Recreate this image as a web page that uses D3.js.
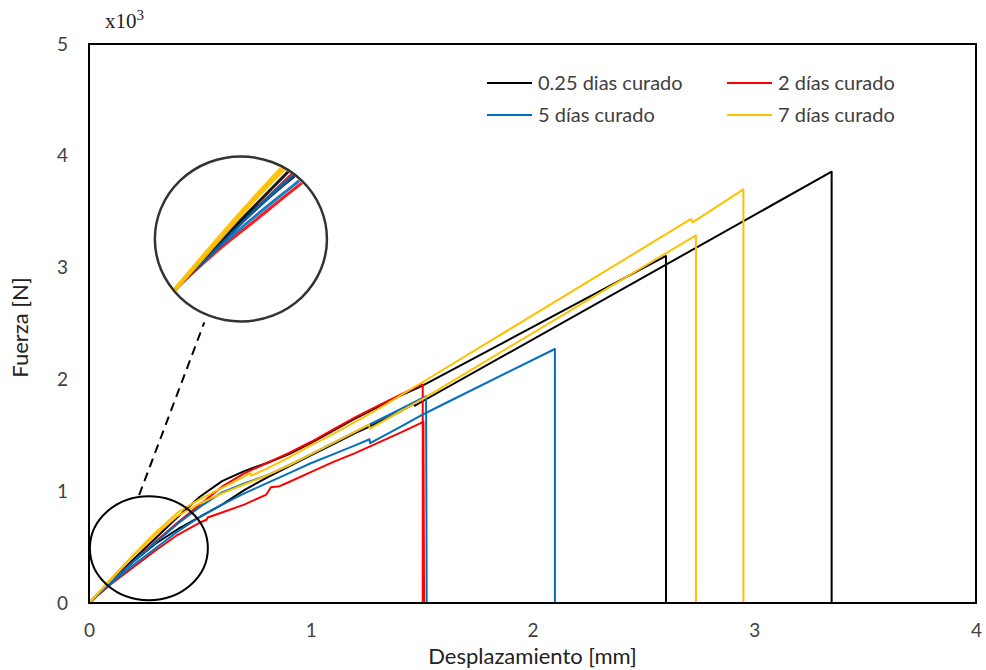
<!DOCTYPE html>
<html><head><meta charset="utf-8">
<script src="https://cdn.jsdelivr.net/npm/d3@7"></script>
<style>
html,body{margin:0;padding:0;background:#fff;}
svg{display:block;font-family:Lato,"Open Sans",sans-serif;}
</style></head>
<body><svg id="c" width="986" height="670"></svg>
<script>
// ---- data (x: mm, y: kN) ----
const seriesNames = ["0.25 dias curado", "2 días curado", "5 días curado", "7 días curado"];
const seriesColors = ["#000000", "#FF0000", "#0070C0", "#FFC000"];
const xTicks = [0, 1, 2, 3, 4];
const yTicks = [0, 1, 2, 3, 4, 5];

const black1 = [[0,0],[0.1,0.20],[0.2,0.39],[0.3,0.58],[0.4,0.77],[0.5,0.95],[0.6,1.09],[0.7,1.18],[0.8,1.25],[0.9,1.33],[1.0,1.43],[1.1,1.54],[1.2,1.65],[1.3,1.75],[1.4,1.85],[1.5,1.94],[2.602,3.104],[2.602,0]];
const black2 = [[0,0],[0.1,0.19],[0.2,0.37],[0.3,0.53],[0.4,0.66],[0.5,0.77],[0.6,0.88],[0.7,1.01],[0.8,1.12],[0.9,1.22],[1.0,1.32],[1.1,1.42],[1.2,1.52],[1.3,1.61],[1.4,1.71],[1.465,1.78],[1.47,1.765],[1.5,1.80],[3.349,3.858],[3.349,0]];
const red1 = [[0,0],[0.1,0.19],[0.2,0.37],[0.3,0.55],[0.4,0.72],[0.5,0.88],[0.6,1.04],[0.7,1.16],[0.8,1.25],[0.9,1.34],[1.0,1.44],[1.1,1.55],[1.2,1.66],[1.3,1.76],[1.4,1.86],[1.5,1.955],[1.505,1.955],[1.505,0]];
const red2 = [[0,0],[0.1,0.17],[0.2,0.32],[0.3,0.47],[0.4,0.61],[0.5,0.72],[0.53,0.745],[0.535,0.765],[0.6,0.81],[0.7,0.88],[0.8,0.97],[0.82,1.035],[0.86,1.045],[0.9,1.08],[1.0,1.17],[1.1,1.26],[1.2,1.34],[1.3,1.43],[1.4,1.52],[1.508,1.62],[1.511,0]];
const blue1 = [[0,0],[0.1,0.19],[0.2,0.37],[0.3,0.54],[0.4,0.71],[0.5,0.86],[0.6,0.99],[0.7,1.07],[0.8,1.14],[0.9,1.23],[1.0,1.33],[1.1,1.43],[1.2,1.53],[1.3,1.63],[1.4,1.73],[1.52,1.85],[1.523,0]];
const blue2 = [[0,0],[0.1,0.18],[0.2,0.34],[0.3,0.49],[0.4,0.64],[0.5,0.77],[0.6,0.88],[0.7,0.98],[0.8,1.07],[0.9,1.16],[1.0,1.25],[1.1,1.33],[1.2,1.41],[1.265,1.465],[1.268,1.43],[1.4,1.57],[1.5,1.68],[1.6,1.78],[2.101,2.272],[2.101,0]];
const yellow1 = [[0,0],[0.1,0.22],[0.2,0.43],[0.3,0.63],[0.4,0.81],[0.5,0.93],[0.6,1.03],[0.7,1.13],[0.726,1.165],[0.732,1.14],[0.8,1.20],[0.9,1.30],[1.0,1.41],[1.1,1.51],[1.2,1.62],[1.3,1.73],[1.4,1.85],[1.5,1.97],[2.715,3.435],[2.722,3.405],[2.951,3.70],[2.951,0]];
const yellow2 = [[0,0],[0.1,0.21],[0.2,0.42],[0.3,0.61],[0.4,0.78],[0.5,0.89],[0.6,0.98],[0.7,1.06],[0.8,1.14],[0.9,1.23],[1.0,1.33],[1.1,1.43],[1.2,1.53],[1.262,1.595],[1.267,1.56],[1.4,1.71],[1.5,1.82],[2.737,3.289],[2.737,0]];

// curves and their series index (0 black, 1 red, 2 blue, 3 yellow)
const curves = [
  {s:0, d:black1},{s:0, d:black2},
  {s:1, d:red1},{s:1, d:red2},
  {s:2, d:blue1},{s:2, d:blue2},
  {s:3, d:yellow1},{s:3, d:yellow2}
];

// ---- layout ----
const svg = d3.select("#c");
const x = d3.scaleLinear().domain([0,4]).range([89,976]);
const y = d3.scaleLinear().domain([0,5]).range([603,44]);
const textCol = "#404040";

// axes (labels only)
const gx = svg.append("g").attr("transform","translate(0,"+y(0)+")")
  .call(d3.axisBottom(x).tickValues(xTicks).tickSize(0).tickPadding(21).tickFormat(d3.format("d")));
gx.select(".domain").remove();
gx.selectAll("text").attr("font-size",19).attr("fill",textCol).attr("font-family","Lato,sans-serif");
const gy = svg.append("g").attr("transform","translate("+x(0)+",0)")
  .call(d3.axisLeft(y).tickValues(yTicks).tickSize(0).tickPadding(21).tickFormat(d3.format("d")));
gy.select(".domain").remove();
gy.selectAll("text").attr("font-size",19).attr("fill",textCol).attr("font-family","Lato,sans-serif");

// lines
const line = d3.line().x(d=>x(d[0])).y(d=>y(d[1]));
svg.append("g").selectAll("path").data(curves).join("path")
  .attr("d", c=>line(c.d)).attr("fill","none")
  .attr("stroke", c=>seriesColors[c.s]).attr("stroke-width",2)
  .attr("stroke-linejoin","round");

// frame
svg.append("rect").attr("x",x(0)).attr("y",y(5)).attr("width",x(4)-x(0)).attr("height",y(0)-y(5))
  .attr("fill","none").attr("stroke","#000").attr("stroke-width",2);

// zoom annotation: small ellipse, dashed connector, large ellipse with magnified curves
const smallC = {cx:0.27, cy:0.49, rx:0.266, ry:0.465};
const bigC = {cx:0.685, cy:3.256, rx:0.388, ry:0.738};
const px = v => x(v) - x(0), py = v => y(0) - y(v);
svg.append("ellipse").attr("cx",x(smallC.cx)).attr("cy",y(smallC.cy))
  .attr("rx",px(smallC.rx)).attr("ry",py(smallC.ry))
  .attr("fill","none").attr("stroke","#000").attr("stroke-width",2);
svg.append("line")
  .attr("x1",x(0.226)).attr("y1",y(0.965)).attr("x2",x(0.52)).attr("y2",y(2.51))
  .attr("stroke","#000").attr("stroke-width",2).attr("stroke-dasharray","9,6");

svg.append("clipPath").attr("id","bigclip").append("ellipse")
  .attr("cx",x(bigC.cx)).attr("cy",y(bigC.cy)).attr("rx",px(bigC.rx)-1.5).attr("ry",py(bigC.ry)-1.5);
svg.append("ellipse").attr("cx",x(bigC.cx)).attr("cy",y(bigC.cy))
  .attr("rx",px(bigC.rx)).attr("ry",py(bigC.ry)).attr("fill","#fff");
// inset scales: origin on lower-left edge of large ellipse
const xi = d3.scaleLinear().domain([0,1]).range([x(0.388), x(0.388)+400]);
const yi = d3.scaleLinear().domain([0,1]).range([y(2.805), y(2.805)-215]);
const lineI = d3.line().x(d=>xi(d[0])).y(d=>yi(d[1])).curve(d3.curveMonotoneX);
const insetOrder = [curves[3],curves[2],curves[5],curves[1],curves[4],curves[0],curves[7],curves[6]];
svg.append("g").attr("clip-path","url(#bigclip)").selectAll("path").data(insetOrder).join("path")
  .attr("d", c=>lineI(c.d.filter(p=>p[0]<=0.5))).attr("fill","none")
  .attr("stroke", c=>seriesColors[c.s]).attr("stroke-width", c=>c.s===3?4:3)
  .attr("stroke-linejoin","round").attr("opacity",0.9);
svg.append("ellipse").attr("cx",x(bigC.cx)).attr("cy",y(bigC.cy))
  .attr("rx",px(bigC.rx)).attr("ry",py(bigC.ry))
  .attr("fill","none").attr("stroke","#333").attr("stroke-width",2.5);

// legend
const legX = [487, 727], legY = [83, 115];
const leg = svg.append("g").selectAll("g").data(seriesNames).join("g")
  .attr("transform",(d,i)=>"translate("+legX[i%2]+","+legY[Math.floor(i/2)]+")");
leg.append("line").attr("x1",0).attr("x2",45).attr("y1",0).attr("y2",0)
  .attr("stroke",(d,i)=>seriesColors[i]).attr("stroke-width",2);
leg.append("text").attr("x",51).attr("y",0).attr("dy","0.35em")
  .attr("font-size",20).attr("fill",textCol).text(d=>d);

// axis titles
svg.append("text").attr("x",(x(0)+x(4))/2).attr("y",664).attr("text-anchor","middle")
  .attr("font-size",22).attr("fill","#222").text("Desplazamiento [mm]");
svg.append("text").attr("transform","translate(28,"+((y(0)+y(5))/2+4)+") rotate(-90)")
  .attr("text-anchor","middle").attr("font-size",22).attr("fill","#222").text("Fuerza [N]");
// multiplier
const mult = svg.append("text").attr("x",105).attr("y",28)
  .attr("font-family","'Liberation Serif','DejaVu Serif',serif").attr("font-size",21).attr("fill","#222");
mult.append("tspan").text("x10");
mult.append("tspan").attr("dy",-8).attr("font-size",15).text("3");
</script>
</body></html>
